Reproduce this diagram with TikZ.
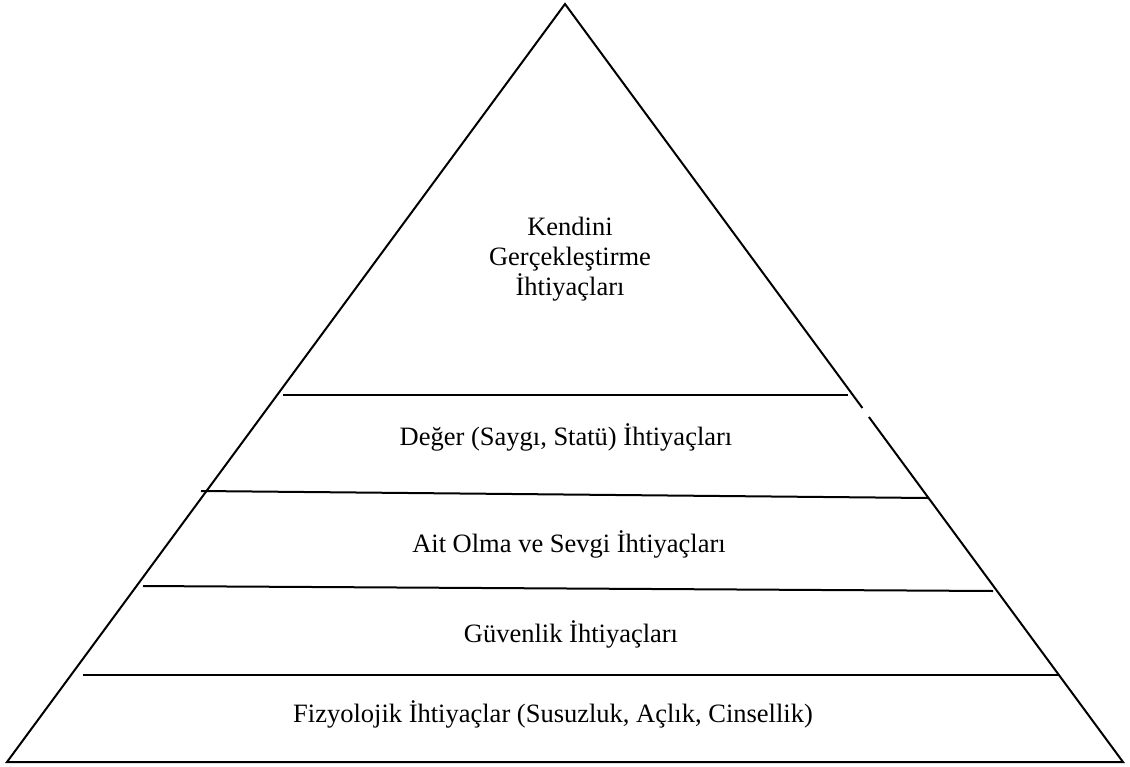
\documentclass[tikz,border=0pt]{standalone}
\usepackage{fontspec}
\setmainfont{Liberation Serif}
\tikzset{
	katman/.style={line width=2pt},
	etiket/.style={anchor=base,inner sep=0pt,font=\fontsize{26.5}{30}\selectfont}
}
\begin{document}
\begin{tikzpicture} [x=1pt,y=-1pt]
				\useasboundingbox (0,0) rectangle (1130,766);
				\coordinate (tepe) at (565,4);
				\coordinate (solalt) at (7,762);
				\coordinate (sagalt) at (1123,762);
				\draw[katman,line join=miter] (868.9,417) -- (sagalt) -- (solalt) -- (tepe) -- (862.4,408);
				\draw[katman] (283,395) -- (848,395);
				\draw[katman] (201,491) -- (928,498);
				\draw[katman] (143,586) -- (993,591);
				\draw[katman] (83,675) -- (1058,675);
				\path (570,235) node[etiket] (kendini) {Kendini};
				\path (570,265) node[etiket] (gercek) {Gerçekleştirme};
				\path (570,295) node[etiket] (ihtiyac) {İhtiyaçları};
				\path (566,445) node[etiket] (deger) {Değer (Saygı, Statü) İhtiyaçları};
				\path (569,552) node[etiket] (ait) {Ait Olma ve Sevgi İhtiyaçları};
				\path (571,642) node[etiket] (guven) {Güvenlik İhtiyaçları};
				\path (553,722) node[etiket] (fizyo) {Fizyolojik İhtiyaçlar (Susuzluk, Açlık, Cinsellik)};
			\end{tikzpicture}
\end{document}
